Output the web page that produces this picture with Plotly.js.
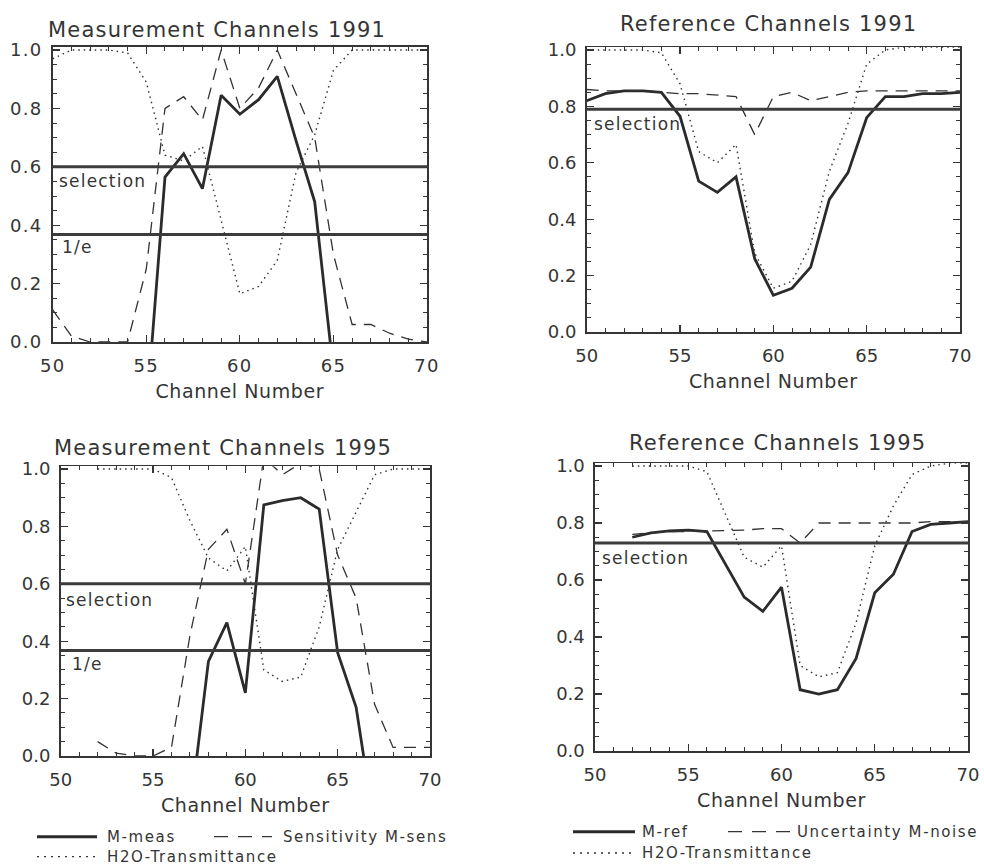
<!DOCTYPE html>
<html>
<head>
<meta charset="utf-8">
<script src="https://cdn.plot.ly/plotly-3.0.1.min.js"></script>
<style>
  html, body { margin: 0; padding: 0; background: #ffffff; }
  #chart { width: 984px; height: 865px; }
  /* slightly open lettering for the axis numbers and titles */
  #chart .xtick text, #chart .ytick text { letter-spacing: 1.3px; }
  #chart .g-xtitle text, #chart .g-x2title text, #chart .g-x3title text, #chart .g-x4title text { letter-spacing: 0.6px; }
</style>
</head>
<body>
<div id="chart"></div>
<script>
// ---- channel grids ----
const channels1991 = [50, 51, 52, 53, 54, 55, 56, 57, 58, 59, 60, 61, 62, 63, 64, 65, 66, 67, 68, 69, 70];
const channels1995 = [52, 53, 54, 55, 56, 57, 58, 59, 60, 61, 62, 63, 64, 65, 66, 67, 68, 69, 70];

// ---- Measurement channels 1991 ----
const mMeas1991 = [null, null, null, null, null, -0.25, 0.565, 0.645, 0.525, 0.845, 0.78, 0.83, 0.91, 0.69, 0.48, -0.1, null, null, null, null, null];
const sensitivity1991 = [0.11, 0.02, 0.0, 0.0, 0.0, 0.25, 0.8, 0.84, 0.76, 1.0, 0.8, 0.87, 1.0, 0.85, 0.7, 0.3, 0.06, 0.06, 0.03, 0.01, 0.0];
const h2oMeas1991 = [0.97, 1.0, 1.0, 1.0, 0.99, 0.89, 0.64, 0.62, 0.67, 0.42, 0.165, 0.19, 0.28, 0.58, 0.71, 0.93, 1.0, 1.0, 1.0, 1.0, 1.0];

// ---- Reference channels 1991 ----
const mRef1991 = [0.82, 0.845, 0.855, 0.855, 0.85, 0.765, 0.535, 0.495, 0.55, 0.26, 0.13, 0.155, 0.23, 0.47, 0.565, 0.76, 0.835, 0.835, 0.845, 0.845, 0.85];
const noise1991 = [0.86, 0.855, 0.855, 0.855, 0.85, 0.845, 0.845, 0.84, 0.835, 0.7, 0.835, 0.85, 0.82, 0.835, 0.85, 0.855, 0.855, 0.855, 0.855, 0.855, 0.855];
const h2oRef1991 = [1.0, 1.0, 1.0, 1.0, 0.99, 0.88, 0.64, 0.6, 0.665, 0.28, 0.155, 0.18, 0.31, 0.57, 0.74, 0.95, 1.0, 1.01, 1.01, 1.01, 1.01];

// ---- Measurement channels 1995 ----
const mMeas1995 = [null, null, null, null, null, -0.2, 0.33, 0.465, 0.22, 0.875, 0.89, 0.9, 0.86, 0.36, 0.17, -0.25, null, null, null];
const sensitivity1995 = [0.05, 0.01, 0.0, 0.0, 0.03, 0.42, 0.72, 0.79, 0.6, 1.04, 0.98, 1.02, 1.0, 0.7, 0.55, 0.18, 0.03, 0.03, 0.03];
const h2oMeas1995 = [1.0, 1.0, 1.0, 1.0, 0.97, 0.82, 0.69, 0.645, 0.73, 0.3, 0.26, 0.275, 0.45, 0.72, 0.85, 0.98, 1.0, 1.0, 1.0];

// ---- Reference channels 1995 ----
const mRef1995 = [0.75, 0.765, 0.772, 0.775, 0.77, 0.655, 0.54, 0.49, 0.575, 0.215, 0.2, 0.215, 0.325, 0.555, 0.62, 0.77, 0.795, 0.8, 0.805];
const noise1995 = [0.76, 0.765, 0.77, 0.77, 0.772, 0.775, 0.775, 0.78, 0.78, 0.73, 0.8, 0.8, 0.8, 0.8, 0.8, 0.8, 0.805, 0.805, 0.805];
const h2oRef1995 = [1.0, 1.0, 1.0, 1.0, 0.98, 0.83, 0.68, 0.645, 0.72, 0.3, 0.26, 0.275, 0.45, 0.72, 0.86, 0.97, 1.0, 1.01, 1.01];

// ---- threshold levels ----
const selectionLevels = { meas1991: 0.6, ref1991: 0.79, meas1995: 0.6, ref1995: 0.73 };
const oneOverE = 0.368;

// ---- text ----
const panelTitles = ['Measurement Channels 1991', 'Reference Channels 1991', 'Measurement Channels 1995', 'Reference Channels 1995'];
const xAxisTitle = 'Channel Number';

// ---- styling ----
const W = 984, H = 865;
const FONT = 'DejaVu Sans, sans-serif';
const INK = '#353535';
const SOLID = { color: '#2b2b2b', width: 2.8 };
const DASHED = { color: '#333333', width: 1.3, dash: '12px,8px' };
const DOTTED = { color: '#333333', width: 1.4, dash: '1.5px,4px' };

// pixel box helpers: left/right in px, y at value 0 and 1 in px
function xDom(l, r) { return [l / W, r / W]; }
function yDom(y0, y1, top) {
  const per = y0 - y1;               // px per unit
  const yTop = y0 - per * top;
  return [1 - y0 / H, 1 - yTop / H];
}
const YTOP = 1.01;

const panels = [
  { xd: xDom(52.7, 427), yd: yDom(342, 50, YTOP) },
  { xd: xDom(586.7, 960), yd: yDom(332, 50, YTOP) },
  { xd: xDom(60.7, 430), yd: yDom(756, 469, YTOP) },
  { xd: xDom(595, 968), yd: yDom(751, 466, YTOP) }
];

function xAxis(p, anchor) {
  return {
    domain: p.xd, anchor: anchor, range: [50, 70],
    tickmode: 'linear', tick0: 50, dtick: 5,
    ticks: 'inside', ticklen: 7, tickwidth: 1.2, tickcolor: INK,
    minor: { dtick: 1, ticklen: 4, tickwidth: 1, tickcolor: INK, ticks: 'inside' },
    showline: true, linecolor: INK, linewidth: 1.6, mirror: 'ticks',
    showgrid: false, zeroline: false,
    tickfont: { family: FONT, size: 18, color: INK },
    ticklabelstandoff: 7,
    title: { text: xAxisTitle, font: { family: FONT, size: 19, color: INK }, standoff: 9 },
    fixedrange: true
  };
}
function yAxis(p, anchor) {
  return {
    domain: p.yd, anchor: anchor, range: [0, YTOP],
    tickmode: 'linear', tick0: 0, dtick: 0.2, tickformat: '.1f',
    ticks: 'inside', ticklen: 7, tickwidth: 1.2, tickcolor: INK,
    minor: { dtick: 0.05, ticklen: 4, tickwidth: 1, tickcolor: INK, ticks: 'inside' },
    showline: true, linecolor: INK, linewidth: 1.6, mirror: 'ticks',
    showgrid: false, zeroline: false,
    tickfont: { family: FONT, size: 18, color: INK },
    ticklabelstandoff: 5,
    fixedrange: true
  };
}

function series(x, y, line, xa, ya, name) {
  return { type: 'scatter', mode: 'lines', x: x, y: y, line: line, xaxis: xa, yaxis: ya,
           name: name, showlegend: false, connectgaps: false, hoverinfo: 'skip' };
}

const traces = [
  series(channels1991, mMeas1991, SOLID, 'x', 'y', 'M-meas'),
  series(channels1991, sensitivity1991, DASHED, 'x', 'y', 'Sensitivity M-sens'),
  series(channels1991, h2oMeas1991, DOTTED, 'x', 'y', 'H2O-Transmittance'),

  series(channels1991, mRef1991, SOLID, 'x2', 'y2', 'M-ref'),
  series(channels1991, noise1991, DASHED, 'x2', 'y2', 'Uncertainty M-noise'),
  series(channels1991, h2oRef1991, DOTTED, 'x2', 'y2', 'H2O-Transmittance'),

  series(channels1995, mMeas1995, SOLID, 'x3', 'y3', 'M-meas'),
  series(channels1995, sensitivity1995, DASHED, 'x3', 'y3', 'Sensitivity M-sens'),
  series(channels1995, h2oMeas1995, DOTTED, 'x3', 'y3', 'H2O-Transmittance'),

  series(channels1995, mRef1995, SOLID, 'x4', 'y4', 'M-ref'),
  series(channels1995, noise1995, DASHED, 'x4', 'y4', 'Uncertainty M-noise'),
  series(channels1995, h2oRef1995, DOTTED, 'x4', 'y4', 'H2O-Transmittance')
];

// horizontal threshold lines across each panel
const LEVEL_LINE = { color: '#3c3c3c', width: 3 };
function level(xa, ya, v) {
  return { type: 'line', xref: xa + ' domain', x0: 0, x1: 1, yref: ya, y0: v, y1: v, line: LEVEL_LINE, layer: 'above' };
}
const shapes = [
  level('x', 'y', selectionLevels.meas1991),
  level('x', 'y', oneOverE),
  level('x2', 'y2', selectionLevels.ref1991),
  level('x3', 'y3', selectionLevels.meas1995),
  level('x3', 'y3', oneOverE),
  level('x4', 'y4', selectionLevels.ref1995)
];

// legend keys under the lower panels
function keyLine(x0, x1, y, line) {
  return { type: 'line', xref: 'paper', yref: 'paper', x0: x0 / W, x1: x1 / W, y0: 1 - y / H, y1: 1 - y / H, line: line };
}
shapes.push(
  keyLine(37, 97, 836.7, { color: '#2b2b2b', width: 3 }),
  keyLine(214, 272, 836.7, { color: INK, width: 1.3, dash: '14px,10px' }),
  keyLine(37, 97, 856.7, { color: INK, width: 1.3, dash: '2px,5px' }),
  keyLine(573, 635, 831.7, { color: '#2b2b2b', width: 3 }),
  keyLine(728, 790, 831.7, { color: INK, width: 1.3, dash: '14px,10px' }),
  keyLine(573, 633, 853, { color: INK, width: 1.3, dash: '2px,5px' })
);

function spaced(text, px) {
  return '<span style="letter-spacing:' + px + 'px">' + text + '</span>';
}
function paperText(text, px, py, size, xanchor, spacing) {
  return { text: spaced(text, spacing), xref: 'paper', yref: 'paper', x: px / W, y: 1 - py / H,
           xanchor: xanchor || 'center', yanchor: 'middle', showarrow: false,
           font: { family: FONT, size: size, color: INK } };
}
function panelText(text, xa, ya, fx, v) {
  return { text: spaced(text, 1.2), xref: xa + ' domain', yref: ya, x: fx, y: v,
           xanchor: 'left', yanchor: 'middle', showarrow: false,
           font: { family: FONT, size: 17, color: INK } };
}

const annotations = [
  paperText(panelTitles[0], 217, 30, 21, 'center', 1.2),
  paperText(panelTitles[1], 768, 24, 21, 'center', 1.2),
  paperText(panelTitles[2], 223, 448, 21, 'center', 1.2),
  paperText(panelTitles[3], 777, 443, 21, 'center', 1.2),

  panelText('selection', 'x', 'y', 0.012, 0.551),
  panelText('1/e', 'x', 'y', 0.02, 0.325),
  panelText('selection', 'x2', 'y2', 0.015, 0.739),
  panelText('selection', 'x3', 'y3', 0.01, 0.5436),
  panelText('1/e', 'x3', 'y3', 0.024, 0.3206),
  panelText('selection', 'x4', 'y4', 0.013, 0.677),

  paperText('M-meas', 105, 836.7, 15, 'left', 1.6),
  paperText('Sensitivity M-sens', 281, 836.7, 15, 'left', 1.6),
  paperText('H2O-Transmittance', 105, 856.7, 15, 'left', 1.6),
  paperText('M-ref', 640, 831.7, 15, 'left', 1.6),
  paperText('Uncertainty M-noise', 795, 831.7, 15, 'left', 1.6),
  paperText('H2O-Transmittance', 640, 853, 15, 'left', 1.6)
];

const layout = {
  width: W, height: H,
  margin: { l: 0, r: 0, t: 0, b: 0 },
  paper_bgcolor: '#ffffff', plot_bgcolor: '#ffffff',
  showlegend: false,
  font: { family: FONT, color: INK },
  xaxis: xAxis(panels[0], 'y'), yaxis: yAxis(panels[0], 'x'),
  xaxis2: xAxis(panels[1], 'y2'), yaxis2: yAxis(panels[1], 'x2'),
  xaxis3: xAxis(panels[2], 'y3'), yaxis3: yAxis(panels[2], 'x3'),
  xaxis4: xAxis(panels[3], 'y4'), yaxis4: yAxis(panels[3], 'x4'),
  shapes: shapes,
  annotations: annotations
};

Plotly.newPlot('chart', traces, layout, { staticPlot: true, displayModeBar: false });
</script>
</body>
</html>
